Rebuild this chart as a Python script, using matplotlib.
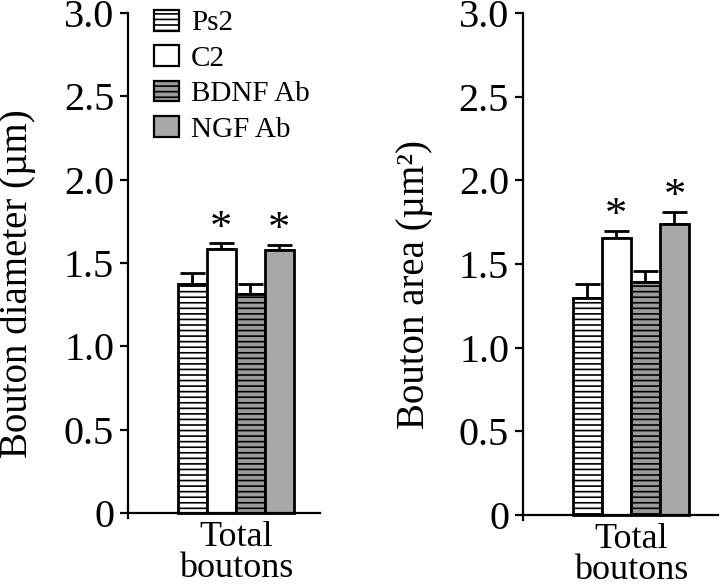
import matplotlib
matplotlib.use('Agg')
from matplotlib import pyplot as plt
from matplotlib.patches import Patch

plt.rcParams['font.family'] = ['Liberation Serif', 'DejaVu Serif']
plt.rcParams['hatch.linewidth'] = 1.2

groups = ['Ps2', 'C2', 'BDNF Ab', 'NGF Ab']
diameter = [1.375, 1.585, 1.315, 1.575]
diameter_err = [0.065, 0.035, 0.06, 0.035]
area = [1.30, 1.653, 1.39, 1.737]
area_err = [0.083, 0.047, 0.07, 0.075]
signif = [False, True, False, True]
yticks = [0, 0.5, 1.0, 1.5, 2.0, 2.5, 3.0]
yticklabels = ['0', '0.5', '1.0', '1.5', '2.0', '2.5', '3.0']

faces = ['white', 'white', '#9a9a9a', '#a8a8a8']
hatches = ['---', '', '---', '']

fig = plt.figure(figsize=(7.2, 5.88), dpi=100)
ax1 = fig.add_axes([0.1778, 0.119, 0.2667, 0.859])
ax2 = fig.add_axes([0.7264, 0.1156, 0.2708, 0.862])

def draw(ax, vals, errs, ylabel, xmax, label_xy):
    pos = list(range(len(vals)))
    ax.bar(pos, vals, width=1.0, color=faces, hatch=hatches,
           edgecolor='black', linewidth=2.0, zorder=2)
    ax.errorbar(pos, vals, yerr=[[0] * len(errs), errs], fmt='none',
                ecolor='black', elinewidth=2.0, capsize=9, capthick=2.0, zorder=1)
    for p, v, e, s in zip(pos, vals, errs, signif):
        if s:
            ax.annotate('*', (p, v + e), xytext=(0, -4), textcoords='offset points',
                        ha='center', va='bottom', fontsize=32)
    ax.set_xlim(-2.22, xmax)
    ax.set_ylim(-0.03, 3.0)
    ax.spines['bottom'].set_position(('data', 0))
    for s in ['top', 'right']:
        ax.spines[s].set_visible(False)
    for s in ['left', 'bottom']:
        ax.spines[s].set_linewidth(1.6)
    ax.set_yticks(yticks)
    ax.set_yticklabels(yticklabels)
    ax.set_xticks([1.5])
    ax.set_xticklabels(['Total\nboutons'], linespacing=0.9)
    ax.tick_params(axis='y', direction='out', length=6, width=1.6, labelsize=29, pad=4)
    ax.tick_params(axis='x', length=0, labelsize=26, pad=6)
    ax.set_ylabel(ylabel, fontsize=28)
    ax.yaxis.set_label_coords(*label_xy)

draw(ax1, diameter, diameter_err, 'Bouton diameter (µm)', 4.4, (-0.479, 0.465))
draw(ax2, area, area_err, 'Bouton area (µm²)', 4.5, (-0.462, 0.465))

handles = [Patch(facecolor=f, edgecolor='black', hatch=h, linewidth=1.6, label=g)
           for f, h, g in zip(faces, hatches, groups)]
ax1.legend(handles=handles, loc='upper left', bbox_to_anchor=(0.136, 1.006), frameon=False,
           fontsize=21, handlelength=0.86, handleheight=0.72, handletextpad=0.4,
           labelspacing=0.3, borderpad=0, borderaxespad=0)

plt.savefig('out.png', dpi=100)
